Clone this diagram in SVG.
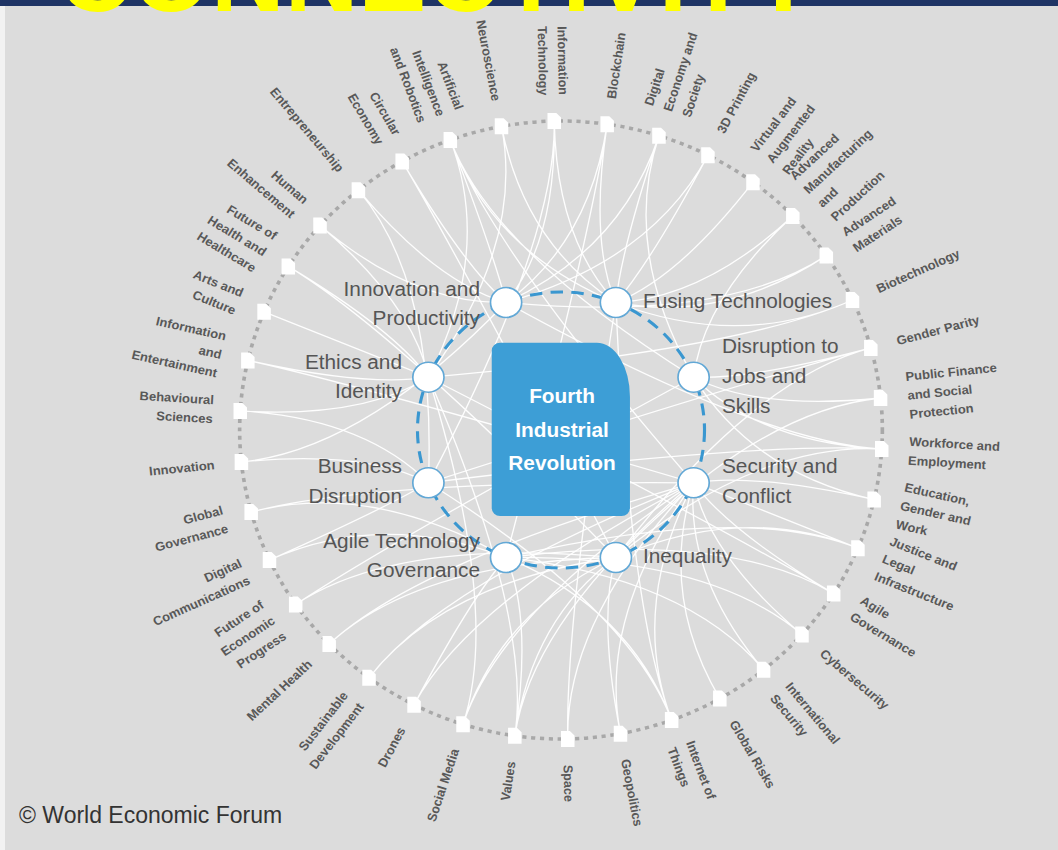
<svg xmlns="http://www.w3.org/2000/svg" xmlns:xlink="http://www.w3.org/1999/xlink" width="1058" height="850" viewBox="0 0 1058 850">
<style>
.lbl{font-family:"Liberation Sans",Arial,Helvetica,sans-serif;font-size:12.5px;font-weight:bold;fill:#585858}
.in{font-family:"Liberation Sans",Arial,Helvetica,sans-serif;font-size:20px;fill:#555}
.lk{fill:none;stroke:#ffffff;stroke-width:1.3;stroke-opacity:0.95}
.doc{fill:#ffffff}
.nn{fill:#ffffff;stroke:#62a8d6;stroke-width:1.6}
.e{text-anchor:end}
</style>
<defs>
<path id="doc" d="M-6.5,-8h8.5l4.5,4.5v11.5h-13z"/>
</defs>
<rect width="1058" height="850" fill="#dcdcdc"/>
<rect x="0" y="0" width="5" height="850" fill="#f2f2f2"/>
<rect x="0" y="0" width="1058" height="6" fill="#1f3465"/>
<text x="58" y="11" font-family="Liberation Sans,Arial,sans-serif" font-weight="bold" font-size="102" fill="#ffff00">CONNECTIVITY</text>
<g transform="translate(561,430) scale(1.04,1)">
<circle r="309" fill="none" stroke="#a8a8a8" stroke-width="3.5" stroke-dasharray="4 4.5"/>
<g id="connectors" class="lk">
<path d="M-6.5,-308.9Q-4,-190 52.8,-127.5M-6.5,-308.9Q-4,-190 -52.8,-127.5M-6.5,-308.9Q-4,-190 -127.5,52.8"/>
<path d="M44.4,-305.8Q27.3,-188 52.8,-127.5M44.4,-305.8Q27.3,-188 -52.8,127.5M44.4,-305.8Q27.3,-188 -52.8,-127.5"/>
<path d="M94.2,-294.3Q57.9,-181 52.8,-127.5M94.2,-294.3Q57.9,-181 -52.8,-127.5M94.2,-294.3Q57.9,-181 127.5,-52.8"/>
<path d="M141.3,-274.8Q86.9,-169 52.8,-127.5M141.3,-274.8Q86.9,-169 -52.8,-127.5"/>
<path d="M184.6,-247.8Q113.5,-152.4 52.8,-127.5"/>
<path d="M222.9,-214Q137.1,-131.6 52.8,-127.5M222.9,-214Q137.1,-131.6 127.5,-52.8"/>
<path d="M255.1,-174.4Q156.8,-107.2 52.8,-127.5M255.1,-174.4Q156.8,-107.2 -52.8,-127.5"/>
<path d="M280.3,-130Q172.4,-79.9 52.8,-127.5M280.3,-130Q172.4,-79.9 -127.5,-52.8"/>
<path d="M297.9,-82.1Q183.2,-50.5 127.5,-52.8M297.9,-82.1Q183.2,-50.5 52.8,127.5M297.9,-82.1Q183.2,-50.5 -127.5,52.8"/>
<path d="M307.3,-32Q189,-19.7 127.5,-52.8M307.3,-32Q189,-19.7 52.8,127.5"/>
<path d="M308.4,19.1Q189.6,11.7 127.5,-52.8M308.4,19.1Q189.6,11.7 -127.5,52.8M308.4,19.1Q189.6,11.7 52.8,127.5M308.4,19.1Q189.6,11.7 -52.8,-127.5"/>
<path d="M301.1,69.6Q185.1,42.8 127.5,-52.8M301.1,69.6Q185.1,42.8 127.5,52.8"/>
<path d="M285.5,118.2Q175.6,72.7 127.5,52.8M285.5,118.2Q175.6,72.7 -52.8,127.5M285.5,118.2Q175.6,72.7 52.8,127.5"/>
<path d="M262.2,163.6Q161.2,100.6 -52.8,127.5M262.2,163.6Q161.2,100.6 127.5,52.8M262.2,163.6Q161.2,100.6 -127.5,-52.8"/>
<path d="M231.7,204.5Q142.5,125.7 127.5,52.8M231.7,204.5Q142.5,125.7 -52.8,127.5"/>
<path d="M194.8,239.8Q119.8,147.5 127.5,52.8M194.8,239.8Q119.8,147.5 -52.8,127.5"/>
<path d="M152.7,268.6Q93.9,165.2 127.5,52.8"/>
<path d="M106.4,290.1Q65.5,178.4 127.5,52.8M106.4,290.1Q65.5,178.4 52.8,-127.5M106.4,290.1Q65.5,178.4 -52.8,127.5M106.4,290.1Q65.5,178.4 -127.5,52.8"/>
<path d="M57.2,303.7Q35.2,186.7 127.5,52.8M57.2,303.7Q35.2,186.7 52.8,127.5"/>
<path d="M6.5,308.9Q4,190 127.5,52.8M6.5,308.9Q4,190 52.8,-127.5"/>
<path d="M-44.4,305.8Q-27.3,188 52.8,127.5M-44.4,305.8Q-27.3,188 -127.5,-52.8M-44.4,305.8Q-27.3,188 -52.8,127.5M-44.4,305.8Q-27.3,188 127.5,52.8"/>
<path d="M-94.2,294.3Q-57.9,181 52.8,127.5M-94.2,294.3Q-57.9,181 127.5,52.8M-94.2,294.3Q-57.9,181 -127.5,-52.8"/>
<path d="M-141.3,274.8Q-86.9,169 127.5,52.8M-141.3,274.8Q-86.9,169 -52.8,127.5"/>
<path d="M-184.6,247.8Q-113.5,152.4 52.8,127.5M-184.6,247.8Q-113.5,152.4 127.5,52.8"/>
<path d="M-222.9,214Q-137.1,131.6 52.8,127.5M-222.9,214Q-137.1,131.6 127.5,52.8"/>
<path d="M-255.1,174.4Q-156.8,107.2 52.8,127.5M-255.1,174.4Q-156.8,107.2 127.5,-52.8"/>
<path d="M-280.3,130Q-172.4,79.9 -52.8,127.5M-280.3,130Q-172.4,79.9 -127.5,52.8"/>
<path d="M-297.9,82.1Q-183.2,50.5 -52.8,127.5M-297.9,82.1Q-183.2,50.5 127.5,52.8"/>
<path d="M-307.3,32Q-189,19.7 -127.5,52.8M-307.3,32Q-189,19.7 -52.8,-127.5"/>
<path d="M-308.4,-19.1Q-189.6,-11.7 -127.5,-52.8M-308.4,-19.1Q-189.6,-11.7 -127.5,52.8"/>
<path d="M-301.1,-69.6Q-185.1,-42.8 -127.5,-52.8M-301.1,-69.6Q-185.1,-42.8 127.5,52.8"/>
<path d="M-285.5,-118.2Q-175.6,-72.7 -127.5,-52.8"/>
<path d="M-262.2,-163.6Q-161.2,-100.6 -127.5,-52.8M-262.2,-163.6Q-161.2,-100.6 52.8,127.5"/>
<path d="M-231.7,-204.5Q-142.5,-125.7 -127.5,-52.8M-231.7,-204.5Q-142.5,-125.7 -52.8,-127.5"/>
<path d="M-194.8,-239.8Q-119.8,-147.5 -52.8,-127.5M-194.8,-239.8Q-119.8,-147.5 -127.5,52.8"/>
<path d="M-152.7,-268.6Q-93.9,-165.2 -52.8,-127.5M-152.7,-268.6Q-93.9,-165.2 52.8,127.5"/>
<path d="M-106.4,-290.1Q-65.5,-178.4 -52.8,-127.5M-106.4,-290.1Q-65.5,-178.4 52.8,-127.5M-106.4,-290.1Q-65.5,-178.4 127.5,-52.8M-106.4,-290.1Q-65.5,-178.4 -127.5,-52.8M-106.4,-290.1Q-65.5,-178.4 127.5,52.8"/>
<path d="M-57.2,-303.7Q-35.2,-186.7 -127.5,-52.8M-57.2,-303.7Q-35.2,-186.7 52.8,-127.5"/>
</g>
<circle r="138" fill="none" stroke="#3a97d0" stroke-width="3" stroke-dasharray="12 8"/>
<g id="center">
<path d="M-58.6,-87.3H34.3A32,54 0 0 1 66.3,-33.3V78A8,8 0 0 1 58.3,86H-58.6A8,8 0 0 1 -66.6,78V-79.3A8,8 0 0 1 -58.6,-87.3Z" fill="#3d9ed6"/>
<text font-family="Liberation Sans,Arial,sans-serif" font-weight="bold" font-size="20" fill="#ffffff" text-anchor="middle"><tspan x="1" y="-27">Fourth</tspan><tspan x="1" y="7">Industrial</tspan><tspan x="1" y="40">Revolution</tspan></text>
</g>
<g id="i-innovation-productivity"><circle class="nn" cx="-52.8" cy="-127.5" r="15"/><text class="in e"><tspan x="-77.9" y="-134">Innovation and</tspan><tspan x="-77.9" y="-105">Productivity</tspan></text></g>
<g id="i-fusing-technologies"><circle class="nn" cx="52.8" cy="-127.5" r="15"/><text class="in" x="78.8" y="-122">Fusing Technologies</text></g>
<g id="i-disruption-jobs"><circle class="nn" cx="127.5" cy="-52.8" r="15"/><text class="in"><tspan x="154.8" y="-77">Disruption to</tspan><tspan x="154.8" y="-47">Jobs and</tspan><tspan x="154.8" y="-17">Skills</tspan></text></g>
<g id="i-security-conflict"><circle class="nn" cx="127.5" cy="52.8" r="15"/><text class="in"><tspan x="154.8" y="43">Security and</tspan><tspan x="154.8" y="73">Conflict</tspan></text></g>
<g id="i-inequality"><circle class="nn" cx="52.8" cy="127.5" r="15"/><text class="in" x="78.8" y="133">Inequality</text></g>
<g id="i-agile-tech-gov"><circle class="nn" cx="-52.8" cy="127.5" r="15"/><text class="in e"><tspan x="-77.9" y="118">Agile Technology</tspan><tspan x="-77.9" y="147">Governance</tspan></text></g>
<g id="i-business-disruption"><circle class="nn" cx="-127.5" cy="52.8" r="15"/><text class="in e"><tspan x="-152.9" y="43">Business</tspan><tspan x="-152.9" y="73">Disruption</tspan></text></g>
<g id="i-ethics-identity"><circle class="nn" cx="-127.5" cy="-52.8" r="15"/><text class="in e"><tspan x="-152.9" y="-61">Ethics and</tspan><tspan x="-152.9" y="-32">Identity</tspan></text></g>

<g id="o-information-technology"><use xlink:href="#doc" href="#doc" class="doc" x="-6.5" y="-308.9"/><text class="lbl e" transform="rotate(-91.2) translate(335 0) rotate(180)"><tspan x="0" y="-5">Information</tspan><tspan x="0" y="14">Technology</tspan></text></g>
<g id="o-blockchain"><use href="#doc" class="doc" x="44.4" y="-305.8"/><text class="lbl" transform="rotate(-81.73) translate(335 0)" x="0" y="4.5">Blockchain</text></g>
<g id="o-digital-economy"><use href="#doc" class="doc" x="94.2" y="-294.3"/><text class="lbl" transform="rotate(-72.25) translate(335 0)"><tspan x="0" y="-14.5">Digital</tspan><tspan x="0" y="4.5">Economy and</tspan><tspan x="0" y="23.5">Society</tspan></text></g>
<g id="o-3d-printing"><use href="#doc" class="doc" x="141.3" y="-274.8"/><text class="lbl" transform="rotate(-62.78) translate(335 0)" x="0" y="4.5">3D Printing</text></g>
<g id="o-virtual-reality"><use href="#doc" class="doc" x="184.6" y="-247.8"/><text class="lbl" transform="rotate(-53.31) translate(335 0)"><tspan x="0" y="-14.5">Virtual and</tspan><tspan x="0" y="4.5">Augmented</tspan><tspan x="0" y="23.5">Reality</tspan></text></g>
<g id="o-advanced-manufacturing"><use href="#doc" class="doc" x="222.9" y="-214"/><text class="lbl" transform="rotate(-43.83) translate(335 0)"><tspan x="0" y="-24">Advanced</tspan><tspan x="0" y="-5">Manufacturing</tspan><tspan x="0" y="14">and</tspan><tspan x="0" y="33">Production</tspan></text></g>
<g id="o-advanced-materials"><use href="#doc" class="doc" x="255.1" y="-174.4"/><text class="lbl" transform="rotate(-34.36) translate(335 0)"><tspan x="0" y="-5">Advanced</tspan><tspan x="0" y="14">Materials</tspan></text></g>
<g id="o-biotechnology"><use href="#doc" class="doc" x="280.3" y="-130"/><text class="lbl" transform="rotate(-24.88) translate(335 0)" x="0" y="4.5">Biotechnology</text></g>
<g id="o-gender-parity"><use href="#doc" class="doc" x="297.9" y="-82.1"/><text class="lbl" transform="rotate(-15.41) translate(335 0)" x="0" y="4.5">Gender Parity</text></g>
<g id="o-public-finance"><use href="#doc" class="doc" x="307.3" y="-32"/><text class="lbl" transform="rotate(-5.94) translate(335 0)"><tspan x="0" y="-14.5">Public Finance</tspan><tspan x="0" y="4.5">and Social</tspan><tspan x="0" y="23.5">Protection</tspan></text></g>
<g id="o-workforce"><use href="#doc" class="doc" x="308.4" y="19.1"/><text class="lbl" transform="rotate(3.54) translate(335 0)"><tspan x="0" y="-5">Workforce and</tspan><tspan x="0" y="14">Employment</tspan></text></g>
<g id="o-education"><use href="#doc" class="doc" x="301.1" y="69.6"/><text class="lbl" transform="rotate(13.01) translate(335 0)"><tspan x="0" y="-14.5">Education,</tspan><tspan x="0" y="4.5">Gender and</tspan><tspan x="0" y="23.5">Work</tspan></text></g>
<g id="o-justice"><use href="#doc" class="doc" x="285.5" y="118.2"/><text class="lbl" transform="rotate(22.48) translate(335 0)"><tspan x="0" y="-14.5">Justice and</tspan><tspan x="0" y="4.5">Legal</tspan><tspan x="0" y="23.5">Infrastructure</tspan></text></g>
<g id="o-agile-governance"><use href="#doc" class="doc" x="262.2" y="163.6"/><text class="lbl" transform="rotate(31.96) translate(335 0)"><tspan x="0" y="-5">Agile</tspan><tspan x="0" y="14">Governance</tspan></text></g>
<g id="o-cybersecurity"><use href="#doc" class="doc" x="231.7" y="204.5"/><text class="lbl" transform="rotate(41.43) translate(335 0)" x="0" y="4.5">Cybersecurity</text></g>
<g id="o-international-security"><use href="#doc" class="doc" x="194.8" y="239.8"/><text class="lbl" transform="rotate(50.91) translate(335 0)"><tspan x="0" y="-5">International</tspan><tspan x="0" y="14">Security</tspan></text></g>
<g id="o-global-risks"><use href="#doc" class="doc" x="152.7" y="268.6"/><text class="lbl" transform="rotate(60.38) translate(335 0)" x="0" y="4.5">Global Risks</text></g>
<g id="o-internet-of-things"><use href="#doc" class="doc" x="106.4" y="290.1"/><text class="lbl" transform="rotate(69.85) translate(335 0)"><tspan x="0" y="-5">Internet of</tspan><tspan x="0" y="14">Things</tspan></text></g>
<g id="o-geopolitics"><use href="#doc" class="doc" x="57.2" y="303.7"/><text class="lbl" transform="rotate(79.33) translate(335 0)" x="0" y="4.5">Geopolitics</text></g>
<g id="o-space"><use href="#doc" class="doc" x="6.5" y="308.9"/><text class="lbl" transform="rotate(88.8) translate(335 0)" x="0" y="4.5">Space</text></g>
<g id="o-values"><use href="#doc" class="doc" x="-44.4" y="305.8"/><text class="lbl e" transform="rotate(98.27) translate(335 0) rotate(180)" x="0" y="4.5">Values</text></g>
<g id="o-social-media"><use href="#doc" class="doc" x="-94.2" y="294.3"/><text class="lbl e" transform="rotate(107.75) translate(335 0) rotate(180)" x="0" y="4.5">Social Media</text></g>
<g id="o-drones"><use href="#doc" class="doc" x="-141.3" y="274.8"/><text class="lbl e" transform="rotate(117.22) translate(335 0) rotate(180)" x="0" y="4.5">Drones</text></g>
<g id="o-sustainable-development"><use href="#doc" class="doc" x="-184.6" y="247.8"/><text class="lbl e" transform="rotate(126.7) translate(335 0) rotate(180)"><tspan x="0" y="-5">Sustainable</tspan><tspan x="0" y="14">Development</tspan></text></g>
<g id="o-mental-health"><use href="#doc" class="doc" x="-222.9" y="214"/><text class="lbl e" transform="rotate(136.17) translate(335 0) rotate(180)" x="0" y="4.5">Mental Health</text></g>
<g id="o-future-economic-progress"><use href="#doc" class="doc" x="-255.1" y="174.4"/><text class="lbl e" transform="rotate(145.65) translate(335 0) rotate(180)"><tspan x="0" y="-14.5">Future of</tspan><tspan x="0" y="4.5">Economic</tspan><tspan x="0" y="23.5">Progress</tspan></text></g>
<g id="o-digital-communications"><use href="#doc" class="doc" x="-280.3" y="130"/><text class="lbl e" transform="rotate(155.12) translate(335 0) rotate(180)"><tspan x="0" y="-5">Digital</tspan><tspan x="0" y="14">Communications</tspan></text></g>
<g id="o-global-governance"><use href="#doc" class="doc" x="-297.9" y="82.1"/><text class="lbl e" transform="rotate(164.6) translate(335 0) rotate(180)"><tspan x="0" y="-5">Global</tspan><tspan x="0" y="14">Governance</tspan></text></g>
<g id="o-innovation"><use href="#doc" class="doc" x="-307.3" y="32"/><text class="lbl e" transform="rotate(174.07) translate(335 0) rotate(180)" x="0" y="4.5">Innovation</text></g>
<g id="o-behavioural-sciences"><use href="#doc" class="doc" x="-308.4" y="-19.1"/><text class="lbl e" transform="rotate(183.54) translate(335 0) rotate(180)"><tspan x="0" y="-5">Behavioural</tspan><tspan x="0" y="14">Sciences</tspan></text></g>
<g id="o-information-entertainment"><use href="#doc" class="doc" x="-301.1" y="-69.6"/><text class="lbl e" transform="rotate(193.02) translate(335 0) rotate(180)"><tspan x="0" y="-14.5">Information</tspan><tspan x="0" y="4.5">and</tspan><tspan x="0" y="23.5">Entertainment</tspan></text></g>
<g id="o-arts-culture"><use href="#doc" class="doc" x="-285.5" y="-118.2"/><text class="lbl e" transform="rotate(202.49) translate(335 0) rotate(180)"><tspan x="0" y="-5">Arts and</tspan><tspan x="0" y="14">Culture</tspan></text></g>
<g id="o-future-health"><use href="#doc" class="doc" x="-262.2" y="-163.6"/><text class="lbl e" transform="rotate(211.97) translate(335 0) rotate(180)"><tspan x="0" y="-14.5">Future of</tspan><tspan x="0" y="4.5">Health and</tspan><tspan x="0" y="23.5">Healthcare</tspan></text></g>
<g id="o-human-enhancement"><use href="#doc" class="doc" x="-231.7" y="-204.5"/><text class="lbl e" transform="rotate(221.44) translate(335 0) rotate(180)"><tspan x="0" y="-5">Human</tspan><tspan x="0" y="14">Enhancement</tspan></text></g>
<g id="o-entrepreneurship"><use href="#doc" class="doc" x="-194.8" y="-239.8"/><text class="lbl e" transform="rotate(230.91) translate(335 0) rotate(180)" x="0" y="4.5">Entrepreneurship</text></g>
<g id="o-circular-economy"><use href="#doc" class="doc" x="-152.7" y="-268.6"/><text class="lbl e" transform="rotate(240.39) translate(335 0) rotate(180)"><tspan x="0" y="-5">Circular</tspan><tspan x="0" y="14">Economy</tspan></text></g>
<g id="o-artificial-intelligence"><use href="#doc" class="doc" x="-106.4" y="-290.1"/><text class="lbl e" transform="rotate(249.86) translate(335 0) rotate(180)"><tspan x="0" y="-14.5">Artificial</tspan><tspan x="0" y="4.5">Intelligence</tspan><tspan x="0" y="23.5">and Robotics</tspan></text></g>
<g id="o-neuroscience"><use href="#doc" class="doc" x="-57.2" y="-303.7"/><text class="lbl e" transform="rotate(259.34) translate(335 0) rotate(180)" x="0" y="4.5">Neuroscience</text></g>
</g>
<text x="19" y="823" font-family="Liberation Sans,Arial,sans-serif" font-size="23" fill="#333333">© World Economic Forum</text>
</svg>
